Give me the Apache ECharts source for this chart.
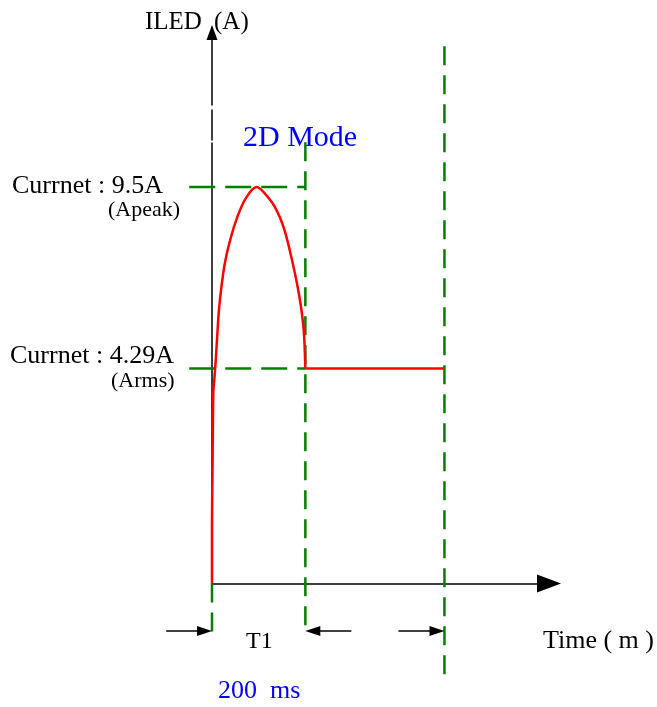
<!DOCTYPE html>
<html>
<head>
    <meta charset="utf-8">
    <title>ILED 2D Mode</title>
    <script src="https://cdn.jsdelivr.net/npm/echarts@6.0.0/dist/echarts.min.js"></script>
</head>
<body style="margin:0">
    <div id="main" style="width: 657px;height:707px;"></div>
    <script type="text/javascript">
        // 電流脈衝曲線 (ms, A)
        var pulseTime = [0, 0, 1.3, 2.8, 4.9, 8.1, 10.7, 15.6, 26.4, 39.2, 54.9, 72.9, 95, 108.5, 133.6, 155, 172.8, 187.1, 196.4, 200];
        var pulseCurrent = [0, 1.4, 2.96, 4.57, 4.88, 5.36, 5.84, 6.64, 7.60, 8.24, 8.80, 9.24, 9.5, 9.40, 9.04, 8.48, 7.68, 6.88, 6.08, 5.15];
        // 持續段
        var holdTime = [200, 498];
        var holdCurrent = [5.15, 5.15];

        // 水平虛線 (峰值 / 有效值)
        var levelValues = [9.5, 5.15];
        var levelRange = [-48.7, 200];

        // 垂直虛線
        var markerTimes = [0, 200, 498];
        var markerTops = [0, 10.57, 12.87];
        var markerBottoms = [-1.16, -1.16, -2.32];

        // 時間標示箭頭
        var arrowTails = [-98, 298.6, 399.4];
        var arrowTips = [0, 200, 498];
        var arrowLevel = -1.14;
        var arrowHalf = 16;

        // 座標軸範圍
        var xMax = 722, yMax = 13.2, xPad = 100;

        var serif = "'Liberation Serif', 'Times New Roman', serif";
        var green = '#008000';

        // 兩個重疊的 grid: 0 畫座標軸, 1 畫資料(左邊多留 xPad 讓負時間不被裁切)
        var plotLeft = 212, plotRight = 108, plotTop = 32.5, plotBottom = 123.5;
        var pxPerMs = (657 - plotLeft - plotRight) / xMax;

        var series = [];
        function addLine(data, style, extra) {
            var s = {
                type: 'line', xAxisIndex: 1, yAxisIndex: 1,
                data: data, symbol: 'none', clip: false, silent: true,
                lineStyle: style
            };
            for (var k in extra) s[k] = extra[k];
            series.push(s);
        }

        levelValues.forEach(function (v) {
            addLine([[levelRange[0], v], [levelRange[1], v]], {color: green, width: 2.5, type: [26, 10]});
        });

        markerTimes.forEach(function (t, i) {
            addLine([[t, markerTops[i]], [t, markerBottoms[i]]], {color: green, width: 2.5, type: [19, 10]});
        });

        arrowTips.forEach(function (tip, i) {
            var dir = tip > arrowTails[i] ? 1 : -1;
            addLine([
                {value: [arrowTails[i], arrowLevel], symbol: 'none'},
                {value: [tip - dir * arrowHalf, arrowLevel], symbol: 'triangle', symbolSize: [10, 15], symbolRotate: dir > 0 ? -90 : 90}
            ], {color: '#000', width: 1.5}, {symbol: 'triangle', itemStyle: {color: '#000', borderWidth: 0}});
        });

        addLine(pulseTime.map(function (t, i) { return [t, pulseCurrent[i]]; }), {color: '#ff0000', width: 2.5}, {smooth: 0.3});
        addLine(holdTime.map(function (t, i) { return [t, holdCurrent[i]]; }), {color: '#ff0000', width: 2.5});

        function txt(x, y, s, size, color) {
            return {
                type: 'text', x: x, y: y, silent: true,
                style: {text: s, font: size + 'px ' + serif, fill: color || '#000', align: 'left', verticalAlign: 'middle'}
            };
        }

        var hidden = {axisLine: {show: false}, axisTick: {show: false}, axisLabel: {show: false}, splitLine: {show: false}};
        function axisLineStyle(size, dash) {
            return {show: true, onZero: false, symbol: ['none', 'triangle'], symbolSize: size,
                    lineStyle: {color: '#000', width: 1.5, type: dash || 'solid'}};
        }

        var option = {
            animation: false,
            grid: [
                {left: plotLeft, top: plotTop, right: plotRight, bottom: plotBottom, outerBoundsMode: 'none'},
                {left: plotLeft - xPad * pxPerMs, top: plotTop, right: plotRight, bottom: plotBottom, outerBoundsMode: 'none'}
            ],
            xAxis: [
                {gridIndex: 0, type: 'value', min: 0, max: xMax, axisLine: axisLineStyle([18, 24]),
                 axisTick: {show: false}, axisLabel: {show: false}, splitLine: {show: false}},
                Object.assign({gridIndex: 1, type: 'value', min: -xPad, max: xMax}, hidden)
            ],
            yAxis: [
                // 原圖 y 軸上有兩個小缺口
                {gridIndex: 0, type: 'value', min: 0, max: yMax, axisLine: axisLineStyle([11, 15], [440.5, 3, 30, 5, 200]),
                 axisTick: {show: false}, axisLabel: {show: false}, splitLine: {show: false}},
                Object.assign({gridIndex: 1, type: 'value', min: 0, max: yMax}, hidden)
            ],
            graphic: [
                txt(145, 22, 'ILED', 25),
                txt(214, 22, '(A)', 25),
                txt(243, 138, '2D Mode', 30, '#0000ff'),
                txt(12, 186, 'Currnet : 9.5A', 26),
                txt(108, 210, '(Apeak)', 22),
                txt(10, 356, 'Currnet : 4.29A', 26),
                txt(111, 381, '(Arms)', 22),
                txt(246, 642, 'T1', 24),
                txt(543, 641, 'Time ( m )', 26),
                txt(218, 691, '200  ms', 26, '#0000ff')
            ],
            series: series
        };

        var chart = echarts.init(document.getElementById('main'));
        chart.setOption(option);
    </script>
</body>
</html>
